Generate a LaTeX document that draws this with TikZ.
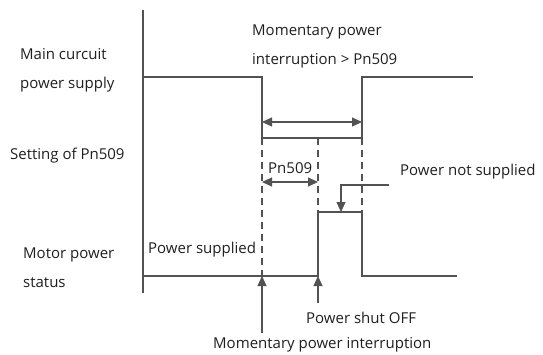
\documentclass[tikz,border=0pt]{standalone}
\usepackage{fontspec}
\setmainfont{Open Sans}
\usetikzlibrary{arrows.meta}
\tikzset{
  wave/.style={draw=black!68, line width=1.1pt},
  guide/.style={draw=black!68, line width=1.1pt, dash pattern=on 7pt off 5pt},
  tips/.style={{Triangle[length=10pt,width=9pt]}-{Triangle[length=10pt,width=9pt]}},
  tipend/.style={-{Triangle[length=10pt,width=9pt]}},
  lbl/.style={font=\fontsize{15}{29}\selectfont, text=black!88, inner sep=0pt,
    anchor=base west, align=left}
}

\begin{document}
\begin{tikzpicture}[x=1pt, y=-1pt]
  \useasboundingbox (0,0) rectangle (543,354);
  % axis
  \coordinate (top) at (143,10);
  \coordinate (bot) at (143,293);
  \draw[wave] (top) -- (bot);
  % main circuit
  \coordinate (m0) at (143,77);
  \coordinate (m1) at (262,77);
  \coordinate (m2) at (262,138);
  \coordinate (m3) at (362,138);
  \coordinate (m4) at (362,77);
  \coordinate (m5) at (473,77);
  \draw[wave] (m0) -- (m1) -- (m2) -- (m3) -- (m4) -- (m5);
  % motor power status
  \coordinate (s0) at (143,276);
  \coordinate (s1) at (318,276);
  \coordinate (s2) at (318,212);
  \coordinate (s3) at (362,212);
  \coordinate (s4) at (362,276);
  \coordinate (s5) at (457,276);
  \draw[wave] (s0) -- (s1) -- (s2) -- (s3) -- (s4) -- (s5);
  % dashed guides
  \coordinate (d0) at (262,276);
  \coordinate (d1) at (318,138);
  \draw[guide] (m2) -- (d0);
  \draw[guide] (d1) -- (s2);
  \draw[guide] (m3) -- (s3);
  % time spans
  \coordinate (ia) at (262,122);
  \coordinate (ib) at (362,122);
  \draw[wave, tips] (ia) -- (ib);
  \coordinate (pa) at (262,182);
  \coordinate (pb) at (318,182);
  \draw[wave, tips] (pa) -- (pb);
  % pointers
  \coordinate (n0) at (389,185);
  \coordinate (n1) at (341,185);
  \coordinate (n2) at (341,212);
  \draw[wave, tipend] (n0) -- (n1) -- (n2);
  \coordinate (u0) at (262,333);
  \draw[wave, tipend] (u0) -- (d0);
  \coordinate (v0) at (318,303);
  \draw[wave, tipend] (v0) -- (s1);
  % labels (base = last line)
  \node[lbl] (main) at (20,88) {Main curcuit\\power supply};
  \node[lbl] (setting) at (10,159) {Setting of Pn509};
  \node[lbl] (motor) at (23,287) {Motor power\\status};
  \node[lbl] (over) at (252,64) {Momentary power\\interruption > Pn509};
  \node[lbl] (pn) at (268,173) {Pn509};
  \node[lbl] (notsup) at (400,175) {Power not supplied};
  \node[lbl] (sup) at (148,253) {Power supplied};
  \node[lbl] (off) at (306,323) {Power shut OFF};
  \node[lbl] (mpi) at (213,348) {Momentary power interruption};
\end{tikzpicture}
\end{document}
